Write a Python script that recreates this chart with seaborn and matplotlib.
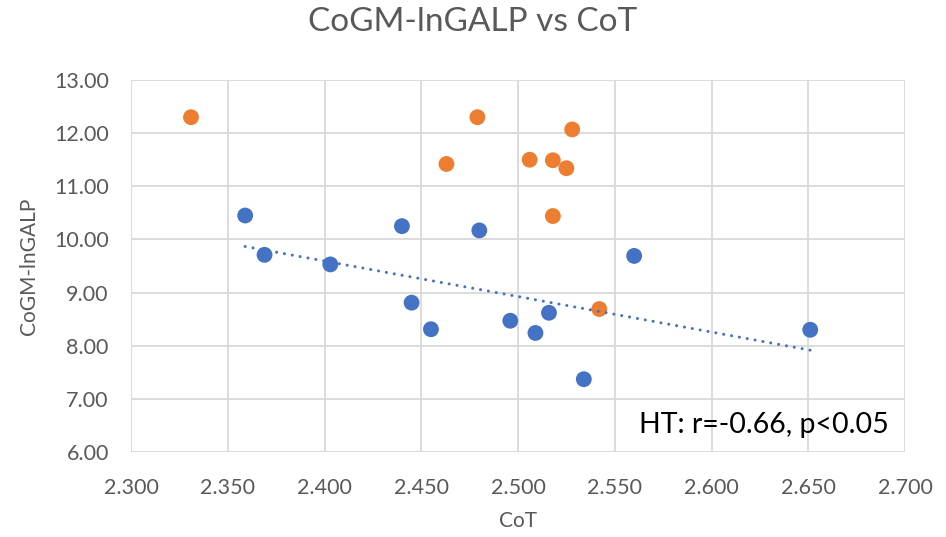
import numpy as np
import pandas as pd
import matplotlib
matplotlib.use("Agg")
import matplotlib.pyplot as plt
import seaborn as sns

# dane
cot_blue = [2.359, 2.369, 2.403, 2.440, 2.445, 2.455, 2.480, 2.496, 2.509, 2.516, 2.534, 2.560, 2.651]
lngalp_blue = [10.45, 9.71, 9.53, 10.25, 8.81, 8.31, 10.17, 8.47, 8.24, 8.62, 7.37, 9.69, 8.30]
cot_orange = [2.331, 2.463, 2.479, 2.506, 2.518, 2.518, 2.525, 2.528, 2.542]
lngalp_orange = [12.30, 11.42, 12.30, 11.50, 11.49, 10.44, 11.34, 12.07, 8.69]

x_ticks = [2.30, 2.35, 2.40, 2.45, 2.50, 2.55, 2.60, 2.65, 2.70]
y_ticks = [6, 7, 8, 9, 10, 11, 12, 13]

df = pd.DataFrame({
    "CoT": cot_blue + cot_orange,
    "lnGALP": lngalp_blue + lngalp_orange,
    "grupa": ["HT"] * len(cot_blue) + ["inne"] * len(cot_orange),
})
df_ht = df[df["grupa"] == "HT"]

sns.set_theme(style="white")
plt.rcParams["font.family"] = ["Lato", "DejaVu Sans"]

fig = plt.figure(figsize=(9.46, 5.37), dpi=100)
ax = fig.add_axes([0.1385, 0.1583, 0.8182, 0.6927])

kolory = {"HT": "#4472C4", "inne": "#ED7D31"}
sns.scatterplot(data=df, x="CoT", y="lnGALP", hue="grupa", palette=kolory,
                s=130, linewidth=0, legend=False, ax=ax, zorder=3)
sns.regplot(data=df_ht, x="CoT", y="lnGALP", scatter=False, ci=None, ax=ax,
            line_kws={"color": "#4472C4", "lw": 2.2,
                      "linestyle": (0, (0.01, 2.6)), "dash_capstyle": "round",
                      "zorder": 4})

ax.set_xlim(2.30, 2.70)
ax.set_ylim(6, 13)
ax.set_xticks(x_ticks)
ax.set_yticks(y_ticks)
ax.set_xticklabels([f"{v:.3f}" for v in x_ticks])
ax.set_yticklabels([f"{v:.2f}" for v in y_ticks])
ax.grid(True, color="#d9d9d9", lw=1.3)
ax.set_axisbelow(True)
for s in ax.spines.values():
    s.set_visible(False)
ax.tick_params(axis="both", length=0, labelsize=15.5, colors="#595959")
ax.tick_params(axis="y", pad=16)
ax.tick_params(axis="x", pad=19)

ax.set_xlabel("CoT", fontsize=15, color="#595959", labelpad=9)
ax.set_ylabel("CoGM-lnGALP", fontsize=15, color="#595959", labelpad=11)
fig.text(0.5, 0.959, "CoGM-lnGALP vs CoT", ha="center", va="center",
         fontsize=24, color="#595959")
ax.text(0.979, 0.073, "HT: r=-0.66, p<0.05", transform=ax.transAxes,
        ha="right", va="center", fontsize=20.5, color="black")

fig.savefig("out.png", dpi=100)
